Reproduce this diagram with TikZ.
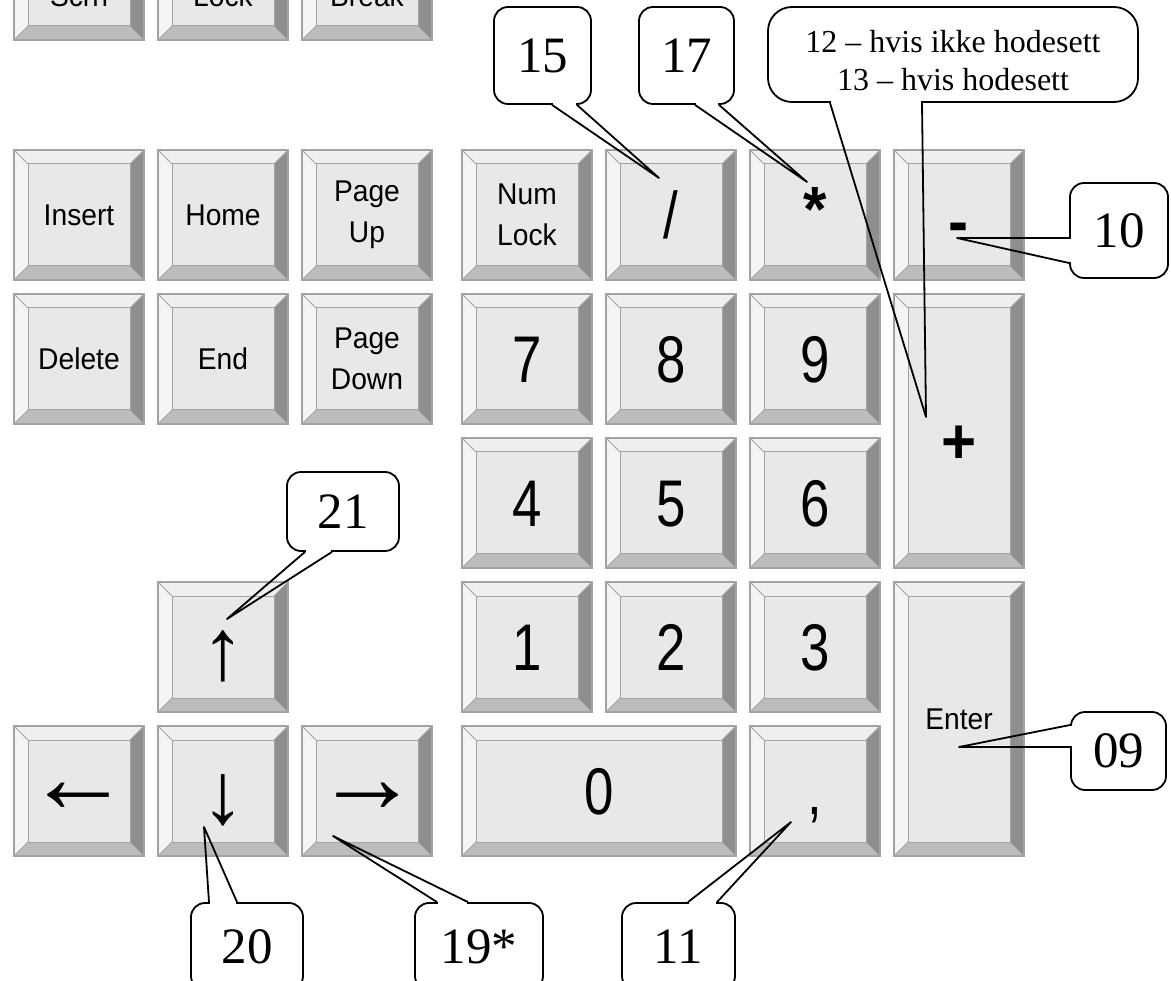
\documentclass[tikz,border=0pt]{standalone}
\usepackage{fontspec}
\usepackage{tikz}
\usetikzlibrary{calc}

\newfontfamily\keyfont[FakeStretch=0.94]{Liberation Sans}
\newfontfamily\digitfont[FakeStretch=0.8]{Liberation Sans}
\newfontfamily\notefont{Liberation Serif}

\definecolor{keyface}{HTML}{E8E8E8}
\definecolor{keytop}{HTML}{EFEFEF}
\definecolor{keyleft}{HTML}{F4F4F4}
\definecolor{keyright}{HTML}{8E8E8E}
\definecolor{keybottom}{HTML}{BCBCBC}
\definecolor{keyedge}{HTML}{A3A3A3}

% tail of a callout on a horizontal / vertical edge
\newcommand{\tailh}[4]{%
  \fill[white] ($(#1)+(#2+1.2,-2.5)$) rectangle ($(#1)+(#3-1.2,2.5)$);
  \draw[callline] ($(#1)+(#2,0)$) -- (#4) -- ($(#1)+(#3,0)$);
}
\newcommand{\tailv}[4]{%
  \fill[white] ($(#1)+(-2.5,#2+1.2)$) rectangle ($(#1)+(2.5,#3-1.2)$);
  \draw[callline] ($(#1)+(0,#2)$) -- (#4) -- ($(#1)+(0,#3)$);
}

\tikzset{
  keycap/.style={draw=keyedge, line width=1.2pt, fill=keyface, inner sep=0pt, align=center,
    minimum width=130pt, minimum height=130pt,
    path picture={
      \path (path picture bounding box.north west) coordinate (kNW)
            (path picture bounding box.north east) coordinate (kNE)
            (path picture bounding box.south east) coordinate (kSE)
            (path picture bounding box.south west) coordinate (kSW);
      \fill[keytop] (kNW) -- (kNE) -- ([shift={(-14pt,-14pt)}]kNE) -- ([shift={(14pt,-14pt)}]kNW) -- cycle;
      \fill[keyright] (kNE) -- (kSE) -- ([shift={(-14pt,14pt)}]kSE) -- ([shift={(-14pt,-14pt)}]kNE) -- cycle;
      \fill[keybottom] (kSE) -- (kSW) -- ([shift={(14pt,14pt)}]kSW) -- ([shift={(-14pt,14pt)}]kSE) -- cycle;
      \fill[keyleft] (kSW) -- (kNW) -- ([shift={(14pt,-14pt)}]kNW) -- ([shift={(14pt,14pt)}]kSW) -- cycle;
      \draw[keyedge, line width=1pt] ([shift={(14pt,-14pt)}]kNW) rectangle ([shift={(-14pt,14pt)}]kSE);
      \draw[keyedge, line width=0.8pt] (kNW) -- ++(14pt,-14pt) (kNE) -- ++(-14pt,-14pt)
            (kSE) -- ++(-14pt,14pt) (kSW) -- ++(14pt,14pt);
    }},
  keytext/.style={keycap, font=\keyfont\fontsize{30}{41}\selectfont},
  keydigit/.style={keycap, font=\digitfont\fontsize{66}{66}\selectfont, text height=47pt, text depth=0pt},
  keybold/.style={keycap, font=\keyfont\bfseries\fontsize{64}{64}\selectfont, text depth=0pt},
  arrowsym/.style={inner sep=0pt, font=\notefont\fontsize{#1}{#1}\selectfont},
  callout/.style={draw, line width=1.8pt, rounded corners=14pt, fill=white, inner sep=0pt,
    font=\notefont\fontsize{51}{51}\selectfont},
  callline/.style={line width=1.8pt, line join=round},
}

\begin{document}
\begin{tikzpicture}[x=1pt, y=-1pt]
    \path[use as bounding box, clip] (0,0) rectangle (1171,981);

    % Top row (cut off)
    \foreach \n/\x/\t in {prt/79/Scrn, scr/223/Lock, pse/367/Break} {
        \node[keycap] (\n) at (\x,-25) {};
        \node[font=\keyfont\fontsize{30}{41}\selectfont, anchor=base] (\n l) at (\x,7) {\t};
    }

    % Editing block
    \foreach \n/\x/\y/\t in {ins/79/215/Insert, home/223/215/Home, pgup/367/215/{Page\\Up},
                            del/79/359/Delete, end/223/359/End, pgdn/367/359/{Page\\Down}} {
        \node[keytext] (\n) at (\x,\y) {\t};
    }

    % Arrow keys
    \foreach \n/\x/\y in {up/223/647, left/79/791, down/223/791, right/367/791} {
        \node[keycap] (\n) at (\x,\y) {};
    }
    \node[arrowsym=87] (up l) at (223,656) {↑};
    \node[arrowsym=87] (down l) at (223,800) {↓};
    \node[arrowsym=104] (left l) at (79,798) {←};
    \node[arrowsym=104] (right l) at (367,798) {→};

    % Numeric keypad
    \node[keytext] (num) at (527,215) {Num\\Lock};
    \node[keydigit] (div) at (671,215) {/};
    \node[keybold, text height=33pt] (mul) at (815,215) {*};
    \node[keybold, text height=58pt] (sub) at (959,215) {-};
    \foreach \d/\x/\y in {7/527/359, 8/671/359, 9/815/359,
                          4/527/503, 5/671/503, 6/815/503,
                          1/527/647, 2/671/647, 3/815/647} {
        \node[keydigit] (k\d) at (\x,\y) {\d};
    }
    \node[keybold, minimum height=274pt, text height=66pt] (add) at (959,431) {+};
    \node[keytext, minimum height=274pt] (ent) at (959,719) {Enter};
    \node[keydigit, minimum width=274pt] (k0) at (599,791) {0};
    \node[keydigit] (dec) at (815,791) {,};

    % Callouts
    \coordinate (t15) at (659,178);
    \coordinate (t17) at (807,182);
    \coordinate (t12) at (926,417);
    \coordinate (t10) at (957,238);
    \coordinate (t09) at (959,747);
    \coordinate (t21) at (227,619);
    \coordinate (t20) at (204,827);
    \coordinate (t19) at (333,836);
    \coordinate (t11) at (791,822);

    \node[callout, minimum width=97pt, minimum height=97pt] (c15) at (542.5,55.5) {15};
    \node[callout, minimum width=95pt, minimum height=97pt] (c17) at (686.5,55.5) {17};
    \node[callout, minimum width=370pt, minimum height=95pt, rounded corners=24pt] (c12) at (953,54.5) {};
    \node[align=center, font=\notefont\fontsize{32}{38}\selectfont] (c12t) at (953,61)
          {12 – hvis ikke hodesett\\13 – hvis hodesett};
    \node[callout, minimum width=98pt, minimum height=95pt] (c10) at (1119,230.5) {10};
    \node[callout, minimum width=95pt, minimum height=78pt] (c09) at (1118.5,751) {09};
    \node[callout, minimum width=112pt, minimum height=79pt] (c21) at (343,511.5) {21};
    \node[callout, minimum width=112pt, minimum height=87pt] (c20) at (247,946.5) {20};
    \node[callout, minimum width=128pt, minimum height=87pt] (c19) at (479,946.5) {19*};
    \node[callout, minimum width=113pt, minimum height=87pt] (c11) at (678.5,946.5) {11};

    \tailh{c15.south}{9.5}{34.5}{t15}
    \tailh{c17.south}{8.5}{32.5}{t17}
    \tailh{c12.south}{-123}{-31}{t12}
    \tailv{c10.west}{7.5}{32.5}{t10}
    \tailv{c09.west}{-26}{-4}{t09}
    \tailh{c21.south}{-38}{-11}{t21}
    \tailh{c20.north}{-38}{-10}{t20}
    \tailh{c19.north}{-42}{-11}{t19}
    \tailh{c11.north}{9.5}{38.5}{t11}
\end{tikzpicture}
\end{document}
